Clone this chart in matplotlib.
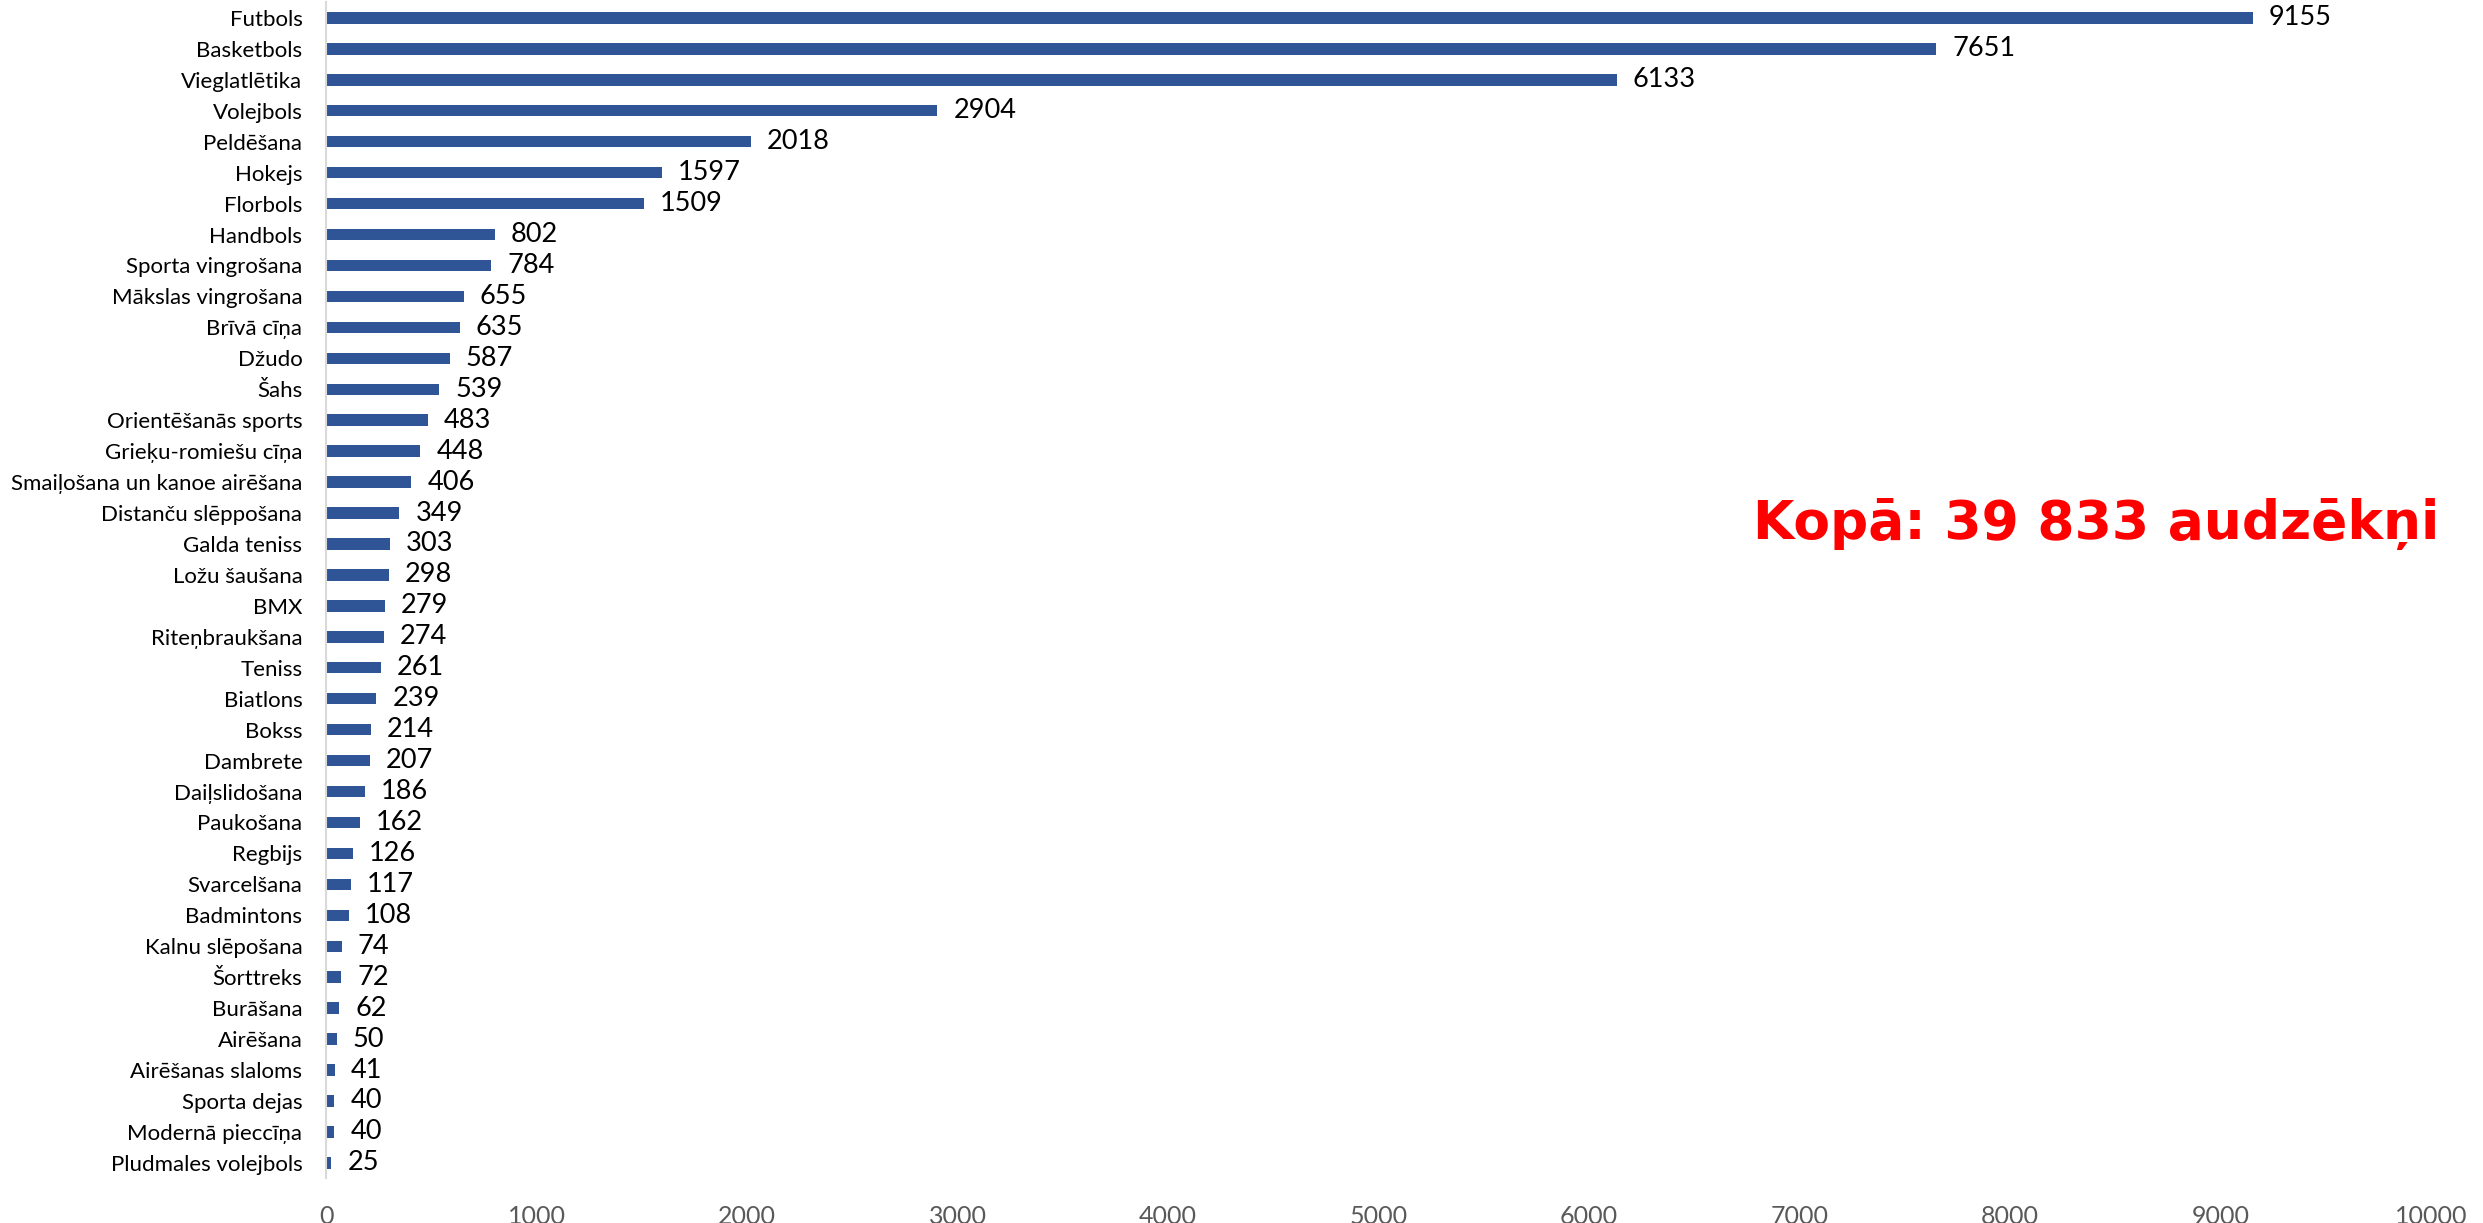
import matplotlib
matplotlib.use('Agg')
import matplotlib.pyplot as plt

# Sporta veidi un audzēkņu skaits (no augšas uz leju)
sporta_veidi = [
    'Futbols', 'Basketbols', 'Vieglatlētika', 'Volejbols', 'Peldēšana',
    'Hokejs', 'Florbols', 'Handbols', 'Sporta vingrošana', 'Mākslas vingrošana',
    'Brīvā cīņa', 'Džudo', 'Šahs', 'Orientēšanās sports', 'Grieķu-romiešu cīņa',
    'Smaiļošana un kanoe airēšana', 'Distanču slēppošana', 'Galda teniss',
    'Ložu šaušana', 'BMX', 'Riteņbraukšana', 'Teniss', 'Biatlons', 'Bokss',
    'Dambrete', 'Daiļslidošana', 'Paukošana', 'Regbijs', 'Svarcelšana',
    'Badmintons', 'Kalnu slēpošana', 'Šorttreks', 'Burāšana', 'Airēšana',
    'Airēšanas slaloms', 'Sporta dejas', 'Modernā pieccīņa', 'Pludmales volejbols',
]
audzekni = [
    9155, 7651, 6133, 2904, 2018, 1597, 1509, 802, 784, 655,
    635, 587, 539, 483, 448, 406, 349, 303, 298, 279,
    274, 261, 239, 214, 207, 186, 162, 126, 117, 108,
    74, 72, 62, 50, 41, 40, 40, 25,
]
x_ticks = list(range(0, 10001, 1000))
kopa_teksts = 'Kopā: 39 833 audzēkņi'

plt.rcParams['font.family'] = ['Lato', 'DejaVu Sans']

fig = plt.figure(figsize=(24.83, 12.23), dpi=100)
ax = fig.add_axes([0.1313, 0.0365, 0.979 - 0.1313, 0.998 - 0.0365])

poz = list(range(len(sporta_veidi)))
ax.barh(poz, audzekni, height=0.37, color='#2F5597')

for y, v in zip(poz, audzekni):
    ax.annotate(str(v), xy=(v, y), xytext=(16, 0), textcoords='offset pixels',
                va='center', ha='left', fontsize=19.5, color='black')

ax.set_yticks(poz)
ax.set_yticklabels(sporta_veidi, fontsize=16, color='black')
ax.set_ylim(len(sporta_veidi) - 0.5, -0.5)
ax.set_xlim(0, 10000)
ax.set_xticks(x_ticks)
ax.set_xticklabels([str(t) for t in x_ticks], fontsize=18, color='#595959')
ax.tick_params(axis='y', length=0, pad=17)
ax.tick_params(axis='x', length=0, pad=19)

for s in ['top', 'right', 'bottom']:
    ax.spines[s].set_visible(False)
ax.spines['left'].set_color('#D9D9D9')
ax.spines['left'].set_linewidth(1.5)

fig.text(2439 / 2483, 1 - 539 / 1223, kopa_teksts, ha='right', va='baseline',
         fontsize=38.5, fontweight='bold', color='#FF0000', family='DejaVu Sans')

fig.savefig('out.png', dpi=100)
